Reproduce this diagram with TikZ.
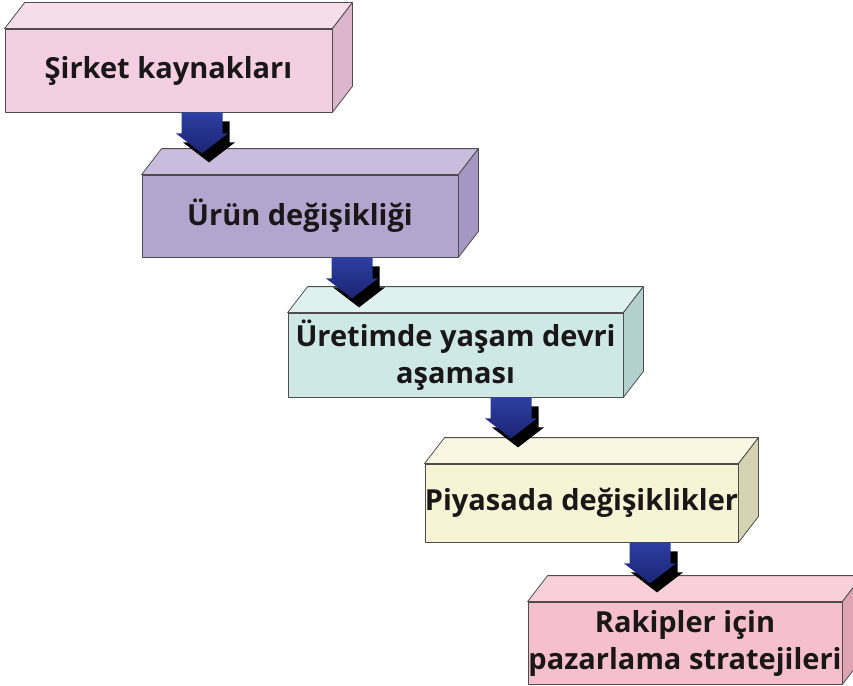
\documentclass[tikz,border=0pt]{standalone}
\usepackage{fontspec}
\setmainfont{Open Sans}
\usepackage{tikz}
\usepackage{xcolor}
\definecolor{croseH}{HTML}{F7DDEA}
\definecolor{crose}{HTML}{F4CFE2}
\definecolor{croseC}{HTML}{DDB6CD}
\definecolor{cmauveH}{HTML}{C9BCDD}
\definecolor{cmauve}{HTML}{B4A5CE}
\definecolor{cmauveC}{HTML}{A596C2}
\definecolor{ccielH}{HTML}{DFF1EF}
\definecolor{cciel}{HTML}{CEE8E6}
\definecolor{ccielC}{HTML}{B4D0CE}
\definecolor{cjauneH}{HTML}{F9F7E1}
\definecolor{cjaune}{HTML}{F6F4D4}
\definecolor{cjauneC}{HTML}{D5D3B2}
\definecolor{cfuchsiaH}{HTML}{F9CFDA}
\definecolor{cfuchsia}{HTML}{F6BFCD}
\definecolor{cfuchsiaC}{HTML}{DEA4B5}
\definecolor{cbleuH}{HTML}{2E3FA3}
\definecolor{cbleuB}{HTML}{1B2472}
\definecolor{cgris}{HTML}{4D4D4D}
\definecolor{cnoir}{HTML}{1A1718}
\tikzset{
  face/.style={draw=cgris, line width=0.8pt, line join=round},
  boite/.style={face, inner sep=0pt, align=center, text=cnoir,
    font=\bfseries\fontsize{29}{37}\selectfont},
  fleche/.pic={
    \fill[black] (-13.5,9) -- (-13.5,30) -- (-19,30) -- (7,50) -- (33,30) -- (27.5,30) -- (27.5,9) -- cycle;
    \shade[top color=cbleuH, bottom color=cbleuB] (-20.5,0) -- (-20.5,21) -- (-26,21) -- (0,41) -- (26,21) -- (20.5,21) -- (20.5,0) -- cycle;
  }
}
\begin{document}
\begin{tikzpicture}[x=1pt, y=-1pt]
\useasboundingbox (0,0) rectangle (853,685);
% faces avant
\node[boite, fill=crose, minimum width=327pt, minimum height=83pt] (b1) at (168.5,70.5) {Şirket kaynakları};
\node[boite, fill=cmauve, minimum width=316pt, minimum height=82pt] (b2) at (300,216) {Ürün değişikliği};
\node[boite, fill=cciel, minimum width=335pt, minimum height=84pt] (b3) at (455.5,355) {Üretimde yaşam devri\\aşaması};
\node[boite, fill=cjaune, minimum width=313pt, minimum height=78pt] (b4) at (581.5,503) {Piyasada değişiklikler};
\node[boite, fill=cfuchsia, minimum width=314pt, minimum height=82pt] (b5) at (685,643) {Rakipler için\\pazarlama stratejileri};
% dessus et flanc
\foreach \b/\ch/\cf in {b1/croseH/croseC, b2/cmauveH/cmauveC, b3/ccielH/ccielC, b4/cjauneH/cjauneC, b5/cfuchsiaH/cfuchsiaC}
  {\filldraw[face, fill=\ch] (\b.north west) -- ++(20,-26) -- ([shift={(20,-26)}]\b.north east) -- (\b.north east) -- cycle;
   \filldraw[face, fill=\cf] (\b.north east) -- ++(20,-26) -- ([shift={(20,-26)}]\b.south east) -- (\b.south east) -- cycle;}
% fleches
\foreach \b/\x in {b1/202, b2/352, b3/511, b4/650}
  {\coordinate (depart) at (\x,0);
   \pic at (\b.south -| depart) {fleche};}
\end{tikzpicture}
\end{document}
